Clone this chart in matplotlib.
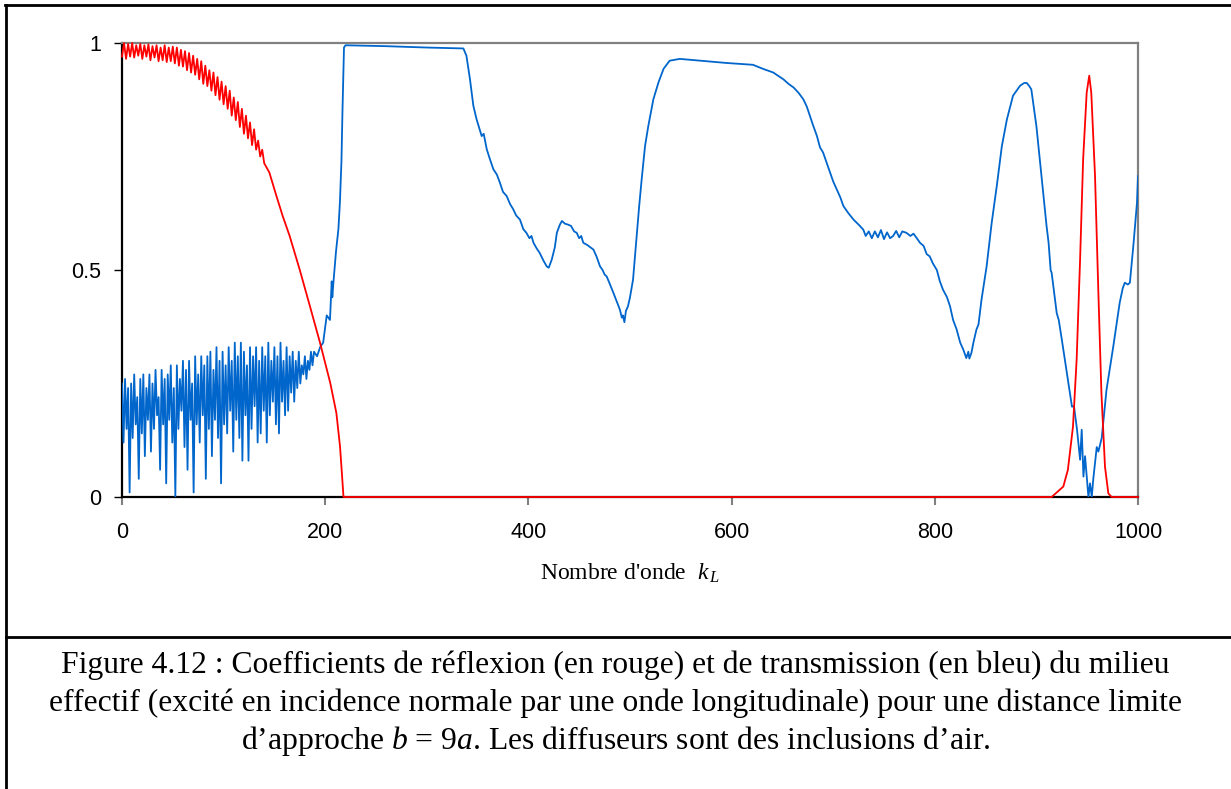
import numpy as np
import matplotlib
matplotlib.use('Agg')
import matplotlib.pyplot as plt
from matplotlib.lines import Line2D

# Reflexion (rouge) : partie oscillante k = 0..140 par pas de 2
red_osc_k = np.arange(0, 141, 2)
red_osc = [0.97, 1.00, 0.965, 0.998, 0.97, 1.00, 0.968, 0.995, 0.972, 0.998,
           0.965, 0.995, 0.97, 0.997, 0.962, 0.993, 0.968, 0.995, 0.96, 0.99,
           0.962, 0.995, 0.958, 0.99, 0.96, 0.992, 0.955, 0.99, 0.95, 0.985,
           0.948, 0.982, 0.94, 0.978, 0.935, 0.972, 0.93, 0.965, 0.92, 0.96,
           0.91, 0.95, 0.905, 0.94, 0.895, 0.935, 0.885, 0.925, 0.875, 0.915,
           0.865, 0.905, 0.855, 0.895, 0.84, 0.88, 0.83, 0.87, 0.815, 0.855,
           0.80, 0.84, 0.79, 0.825, 0.775, 0.81, 0.765, 0.785, 0.75, 0.765,
           0.735]
red_k = [145, 152, 158, 165, 175, 185, 195, 205, 211, 214.6,
         216.5, 218, 915, 926.5, 931, 936, 939.6, 943, 946, 949.5,
         952, 954, 957.7, 961, 964, 967.5, 970.8, 974, 1000]
red_r = [0.715, 0.663, 0.62, 0.575, 0.50, 0.42, 0.339, 0.251, 0.185, 0.111,
         0.05, 0.0, 0.0, 0.023, 0.06, 0.155, 0.302, 0.523, 0.744, 0.891,
         0.928, 0.891, 0.707, 0.45, 0.229, 0.067, 0.008, 0.0, 0.0]

# Transmission (bleu) : partie oscillante k = 0..189 par pas de 1.5
blue_osc_k = np.arange(0, 190, 1.5)
blue_osc = [0.25, 0.12, 0.26, 0.15, 0.24, 0.01, 0.25, 0.13, 0.27, 0.16,
            0.22, 0.04, 0.26, 0.14, 0.27, 0.09, 0.24, 0.17, 0.27, 0.10,
            0.25, 0.15, 0.28, 0.18, 0.22, 0.06, 0.28, 0.16, 0.26, 0.03,
            0.27, 0.17, 0.29, 0.12, 0.24, 0.00, 0.29, 0.15, 0.26, 0.19,
            0.30, 0.11, 0.28, 0.06, 0.30, 0.17, 0.25, 0.01, 0.31, 0.16,
            0.27, 0.12, 0.31, 0.18, 0.29, 0.04, 0.31, 0.15, 0.32, 0.09,
            0.28, 0.17, 0.33, 0.13, 0.30, 0.03, 0.32, 0.16, 0.29, 0.14,
            0.33, 0.19, 0.30, 0.10, 0.34, 0.17, 0.31, 0.13, 0.34, 0.08,
            0.32, 0.18, 0.29, 0.08, 0.33, 0.15, 0.31, 0.20, 0.33, 0.12,
            0.30, 0.14, 0.33, 0.19, 0.31, 0.12, 0.34, 0.18, 0.30, 0.21,
            0.33, 0.16, 0.31, 0.14, 0.34, 0.21, 0.30, 0.18, 0.33, 0.19,
            0.31, 0.23, 0.32, 0.21, 0.30, 0.24, 0.32, 0.25, 0.29, 0.27,
            0.31, 0.26, 0.30, 0.28, 0.32, 0.29, 0.32]
blue_k = [192, 195, 198, 201.5, 204.7, 206.4, 207, 208, 210.6, 213,
          214.5, 216, 217, 218.5, 220, 260, 300, 336, 339, 342.5,
          345.8, 349, 354, 356, 359, 362, 365.5, 369, 372, 375,
          378.6, 382, 385, 388, 391.7, 395, 398, 401, 403, 405,
          408, 411, 415, 418, 420, 423, 426, 428, 431, 433,
          436, 439, 442, 445, 447.5, 450, 452, 454, 458, 461,
          464, 467, 470.5, 473, 475, 477, 480, 483.6, 487, 490,
          492, 493, 494.5, 496, 498, 500, 503, 506.6, 509, 511.5,
          514.8, 518, 523, 528, 533, 539, 549, 569, 595, 621,
          631, 641, 651, 656, 661, 666, 670.6, 674, 677, 680,
          684, 687, 690, 693, 697, 700, 703.4, 707, 710, 715,
          720, 725, 729.6, 732, 735, 738, 741, 744, 747, 750,
          753, 756, 759, 762, 765, 768, 772, 776, 779, 782,
          785.4, 789, 792, 795, 798, 802, 805, 808, 812, 815,
          818, 821.5, 825, 828, 831, 833, 834, 836, 838, 841,
          843, 846, 851, 856, 861, 866, 871, 877, 884, 888,
          890.5, 893, 895, 900, 905, 910, 912, 914, 915, 918,
          920, 922, 925, 930, 935, 937, 940, 943, 944.6, 946.3,
          947.9, 951.2, 952.8, 954.5, 956, 959.4, 961, 964.3, 969, 975.7,
          982, 985, 987, 990, 992, 995.4, 999, 1000]
blue_t = [0.31, 0.33, 0.34, 0.40, 0.39, 0.475, 0.44, 0.47, 0.54, 0.59,
          0.65, 0.74, 0.85, 0.99, 0.995, 0.993, 0.99, 0.988, 0.972, 0.92,
          0.862, 0.832, 0.795, 0.80, 0.766, 0.745, 0.722, 0.71, 0.692, 0.672,
          0.663, 0.645, 0.634, 0.62, 0.611, 0.59, 0.582, 0.57, 0.575, 0.56,
          0.548, 0.538, 0.52, 0.508, 0.505, 0.523, 0.55, 0.582, 0.60, 0.608,
          0.602, 0.60, 0.597, 0.585, 0.582, 0.57, 0.575, 0.56, 0.555, 0.55,
          0.545, 0.53, 0.508, 0.50, 0.49, 0.486, 0.47, 0.45, 0.43, 0.413,
          0.395, 0.40, 0.385, 0.41, 0.42, 0.44, 0.479, 0.575, 0.64, 0.70,
          0.773, 0.817, 0.876, 0.913, 0.943, 0.961, 0.965, 0.961, 0.956, 0.952,
          0.943, 0.935, 0.92, 0.91, 0.902, 0.89, 0.876, 0.86, 0.84, 0.82,
          0.795, 0.77, 0.759, 0.74, 0.715, 0.695, 0.678, 0.66, 0.641, 0.625,
          0.611, 0.60, 0.589, 0.575, 0.585, 0.57, 0.585, 0.572, 0.588, 0.568,
          0.583, 0.57, 0.575, 0.586, 0.572, 0.585, 0.582, 0.575, 0.58, 0.571,
          0.56, 0.553, 0.535, 0.53, 0.515, 0.50, 0.475, 0.457, 0.44, 0.42,
          0.39, 0.369, 0.34, 0.325, 0.306, 0.32, 0.305, 0.317, 0.34, 0.369,
          0.38, 0.435, 0.508, 0.604, 0.685, 0.773, 0.832, 0.884, 0.906, 0.912,
          0.912, 0.905, 0.898, 0.817, 0.707, 0.597, 0.56, 0.50, 0.494, 0.44,
          0.405, 0.39, 0.347, 0.273, 0.199, 0.20, 0.148, 0.082, 0.148, 0.045,
          0.09, 0.0, 0.03, 0.0, 0.04, 0.11, 0.10, 0.13, 0.236, 0.332,
          0.428, 0.46, 0.472, 0.468, 0.472, 0.553, 0.648, 0.707]

x_ticks = [0, 200, 400, 600, 800, 1000]
y_ticks = [0, 0.5, 1]
y_labels = ['0', '0.5', '1']
caption = ['Figure 4.12 : Coefficients de réflexion (en rouge) et de transmission (en bleu) du milieu',
           'effectif (excité en incidence normale par une onde longitudinale) pour une distance limite',
           'd’approche $b$ = 9$a$. Les diffuseurs sont des inclusions d’air.']

plt.rcParams['mathtext.fontset'] = 'custom'
plt.rcParams['mathtext.rm'] = 'Liberation Serif'
plt.rcParams['mathtext.it'] = 'Liberation Serif:italic'
plt.rcParams['font.family'] = ['Liberation Sans', 'DejaVu Sans']

kr = np.concatenate([red_osc_k, red_k])
rr = np.concatenate([red_osc, red_r])
kb = np.concatenate([blue_osc_k, blue_k])
tb = np.concatenate([blue_osc, blue_t])

W, H = 1231, 789
fig = plt.figure(figsize=(W / 100, H / 100), dpi=100)
ax = fig.add_axes([122 / W, 1 - 497 / H, (1138 - 122) / W, (497 - 43) / H])

ax.plot(kb, tb, color='#0066CC', lw=1.3, zorder=3)
ax.plot(kr, rr, color='#FF0000', lw=1.3, zorder=4, clip_on=False)

ax.set_xlim(0, 1000)
ax.set_ylim(0, 1)
ax.set_xticks(x_ticks)
ax.set_yticks(y_ticks)
ax.set_yticklabels(y_labels)
ax.tick_params(axis='x', direction='out', length=6, width=1.5, color='#808080',
               pad=12, labelsize=15.5)
ax.tick_params(axis='y', direction='out', length=6, width=1.0, color='black',
               pad=9, labelsize=15.5)
ax.spines['left'].set_color('black')
ax.spines['bottom'].set_color('black')
ax.spines['top'].set_color('#808080')
ax.spines['right'].set_color('#808080')
for s in ax.spines.values():
    s.set_linewidth(1.6)

fig.text(0.5118, 1 - 573 / H, "Nombre d'onde  $k_{\\,L}$", ha='center', va='center',
         family='Liberation Serif', fontsize=17)

for i, line in enumerate(caption):
    fig.text(0.5, 1 - (665 + 38 * i) / H, line, ha='center', va='center',
             family='Liberation Serif', fontsize=22.8)

# cadre
fig.add_artist(Line2D([5 / W, 1], [1 - 5 / H, 1 - 5 / H], color='black', lw=2))
fig.add_artist(Line2D([6 / W, 6 / W], [0, 1 - 5 / H], color='black', lw=2))
fig.add_artist(Line2D([6 / W, 1], [1 - 637 / H, 1 - 637 / H], color='black', lw=2))

fig.savefig('out.png', dpi=100)
